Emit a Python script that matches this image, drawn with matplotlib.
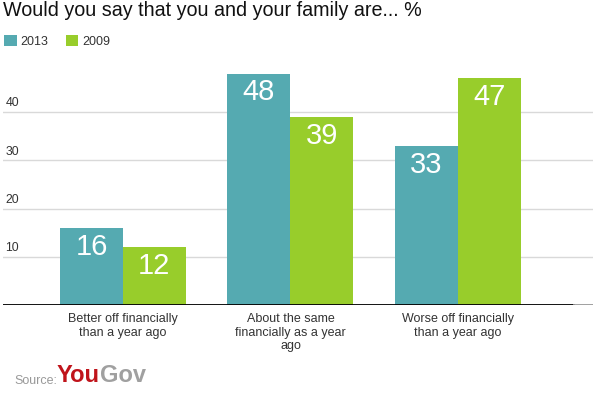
import matplotlib
matplotlib.use("Agg")
import matplotlib.pyplot as plt
import numpy as np

plt.rcParams['font.family'] = ['Liberation Sans', 'DejaVu Sans']

# data
categories = ["Better off financially\nthan a year ago",
              "About the same\nfinancially as a year\nago",
              "Worse off financially\nthan a year ago"]
series_names = ["2013", "2009"]
values_2013 = [16, 48, 33]
values_2009 = [12, 39, 47]
yticks = [10, 20, 30, 40]

teal = "#55aab1"
green = "#98cd2b"

fig = plt.figure(figsize=(5.96, 3.95), dpi=100)
ax = fig.add_axes([3 / 596, 1 - 305 / 395, 590 / 596, 241 / 395])

x = np.arange(len(categories))
w = 0.376
b1 = ax.bar(x - w / 2, values_2013, w, color=teal, label=series_names[0], zorder=3)
b2 = ax.bar(x + w / 2, values_2009, w, color=green, label=series_names[1], zorder=3)

# value labels inside the top of each bar
for bars, vals in [(b1, values_2013), (b2, values_2009)]:
    for r, v in zip(bars, vals):
        ax.text(r.get_x() + r.get_width() / 2, v - 1.0, str(v), ha="center", va="top",
                color="white", fontsize=21, zorder=4)

ax.set_xlim(-0.716, 2.806)
ax.set_ylim(0, 50)

# gridlines + labels sitting above them
for t in yticks:
    ax.axhline(t, color="#d9d9d9", lw=1, zorder=1)
    ax.text(0.004, t + 0.6, str(t), transform=ax.get_yaxis_transform(),
            ha="left", va="bottom", fontsize=8.8, color="#333333")
ax.axhline(0, xmin=0, xmax=0.968, color="black", lw=1.3, zorder=5)
ax.axhline(0, xmin=0.968, xmax=1, color="#999999", lw=1.3, zorder=5)

for s in ax.spines.values():
    s.set_visible(False)
ax.set_yticks([])
ax.set_xticks(x)
ax.set_xticklabels(categories, fontsize=9, color="#333333", linespacing=1.15)
ax.tick_params(axis="x", length=0, pad=6)

fig.text(3 / 596, 1 - 1 / 395, "Would you say that you and your family are... %",
         ha="left", va="top", fontsize=14.2, color="#111111")

fig.legend(handles=[b1, b2], labels=series_names, loc="upper left",
           bbox_to_anchor=(-1 / 596, 1 - 30 / 395), ncol=2, frameon=False,
           fontsize=9, handlelength=1.0, handleheight=1.0, handletextpad=0.3,
           columnspacing=1.4, labelcolor="#333333", borderaxespad=0)

# source line
src = fig.text(14 / 596, 1 - 384 / 395, "Source:", fontsize=9, color="#999999",
               ha="left", va="baseline")
you = ax.annotate("You", xy=(1, 0), xycoords=src, fontsize=17, fontweight="bold",
                  color="#c0141b", ha="left", va="bottom", annotation_clip=False)
ax.annotate("Gov", xy=(1, 0), xycoords=you, fontsize=17, fontweight="bold",
            color="#a0a0a0", ha="left", va="bottom", annotation_clip=False)

fig.savefig("out.png", dpi=100)
